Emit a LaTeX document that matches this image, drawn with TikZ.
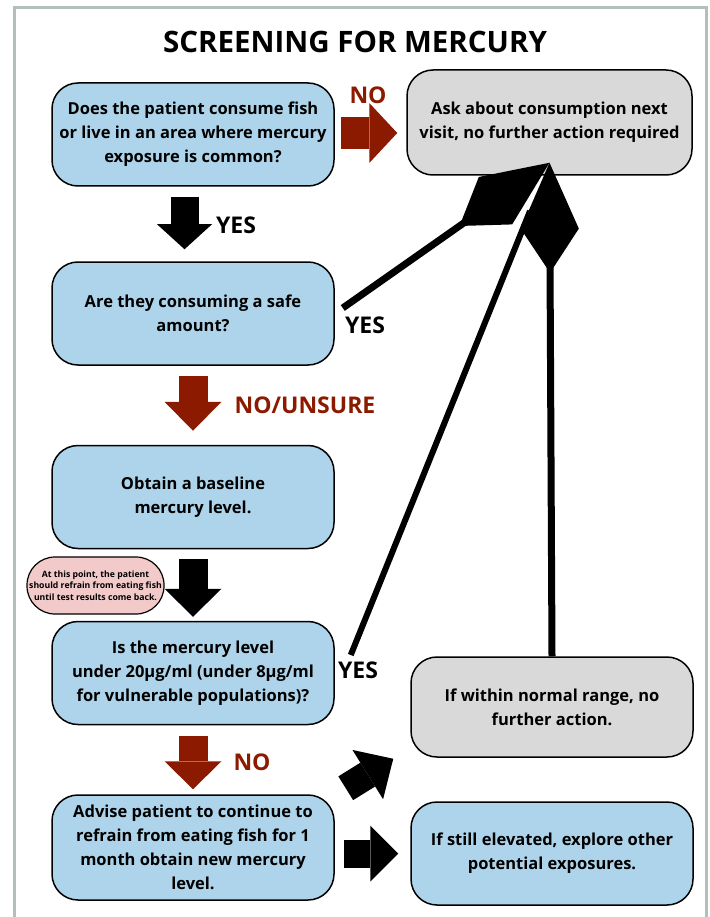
\documentclass[tikz,border=0pt]{standalone}
\usepackage{fontspec}
\setmainfont{Open Sans}
\usetikzlibrary{arrows.meta,positioning,calc}

\definecolor{boxblue}{HTML}{ADD4EA}
\definecolor{boxgray}{HTML}{D9D9D9}
\definecolor{noRed}{HTML}{8B1A00}
\definecolor{notepink}{HTML}{F2CACA}
\definecolor{framegray}{HTML}{B3BFBA}

\begin{document}
\begin{tikzpicture}[
    x=1pt, y=-1pt,
    box/.style={rectangle, draw=black, line width=1.5pt, fill=boxblue, rounded corners=26pt, minimum width=282pt, minimum height=103pt, align=center, inner sep=0pt, font=\bfseries\fontsize{16.5}{24}\selectfont},
    graybox/.style={box, fill=boxgray},
    notebox/.style={rectangle, draw=black, line width=1.2pt, fill=notepink, rounded corners=28pt, minimum width=137pt, minimum height=57pt, align=center, inner sep=0pt, font=\bfseries\fontsize{8.7}{11.5}\selectfont},
    title/.style={font=\bfseries\fontsize{29.5}{34}\selectfont},
    yeslabel/.style={font=\bfseries\fontsize{23}{26}\selectfont},
    nolabel/.style={yeslabel, text=noRed},
    blockarrow/.style={draw=black, line width=28pt, -{Triangle[length=28pt, width=56pt, line width=0pt]}},
    redarrow/.style={blockarrow, draw=noRed},
    bigline/.style={draw=black, line width=7pt, -{Kite[length=110pt, width=58pt, inset=44pt, line width=0pt]}},
    thinline/.style={draw=black, line width=6pt}
]
\useasboundingbox (0,0) rectangle (709,917);

% frame
\draw[framegray, line width=3pt] (14,917) -- (14,8) -- (706,8) -- (706,917);
\node[title] (title) at (355,42) {SCREENING FOR MERCURY};

% left column
\node[box] (fish) at (193,134.5) {Does the patient consume fish\\or live in an area where mercury\\exposure is common?};
\node[box] (safe) at (193,313.5) {Are they consuming a safe\\amount?};
\node[box] (baseline) at (193,497) {Obtain a baseline\\mercury level.};
\node[box] (level) at (193,673) {Is the mercury level\\under 20µg/ml (under 8µg/ml\\for vulnerable populations)?};
\node[box, minimum height=105pt] (advise) at (193,847.5) {Advise patient to continue to\\refrain from eating fish for 1\\month obtain new mercury\\level.};
\node[notebox] (note) at (95.5,585.5) {At this point, the patient\\should refrain from eating fish\\until test results come back.};

% right column
\node[graybox, minimum width=285pt, minimum height=105pt] (asknext) at (549.5,122.5) {Ask about consumption next\\visit, no further action required};
\node[graybox, minimum height=100pt] (normal) at (552,707) {If within normal range, no\\further action.};
\node[box] (elevated) at (552,853.5) {If still elevated, explore other\\potential exposures.};

\coordinate (tip) at ([yshift=13pt]asknext.south);

% block arrows
\draw[redarrow, line width=32pt, -{Triangle[length=28pt, width=60pt, line width=0pt]}, shorten <=6pt, shorten >=9pt] ([yshift=1.5pt]fish.east) -- ([yshift=1.5pt]fish.east -| asknext.west);
\draw[blockarrow, -{Triangle[length=25pt, width=55pt, line width=0pt]}, shorten <=10pt, shorten >=12pt] ([xshift=-8.5pt]fish.south) -- ([xshift=-8.5pt]safe.north);
\draw[redarrow, line width=29pt, -{Triangle[length=29pt, width=57pt, line width=0pt]}, shorten <=10pt, shorten >=14pt] (safe.south) -- (baseline.north);
\draw[blockarrow, line width=29pt, -{Triangle[length=28pt, width=57pt, line width=0pt]}, shorten <=10pt, shorten >=4pt] (baseline.south) -- (level.north);
\draw[redarrow, line width=29pt, -{Triangle[length=28pt, width=57pt, line width=0pt]}, shorten <=11pt, shorten >=5pt] (level.south) -- (advise.north);
\draw[blockarrow, -{Triangle[length=30pt, width=58pt, line width=0pt]}] ([xshift=11pt,yshift=6pt]advise.north east) -- ([xshift=-17pt,yshift=-1pt]normal.south west);
\draw[blockarrow, shorten <=9pt, shorten >=12pt] (advise.east |- elevated.west) -- (elevated.west);

% lines back to the top box
\draw[thinline, shorten >=52pt] ([xshift=16pt,yshift=18pt]level.east) -- (tip);
\draw[bigline] (normal.north) -- (tip);
\draw[bigline] ([xshift=8pt,yshift=5.5pt]safe.east) -- (tip);

% labels
\node[nolabel] (nofish) at (368,95) {NO};
\node[yeslabel] (yesfish) at (236,225) {YES};
\node[yeslabel] (yessafe) at (365,325) {YES};
\node[nolabel] (unsure) at (305,405) {NO/UNSURE};
\node[yeslabel] (yeslevel) at (358,670) {YES};
\node[nolabel] (nolevel) at (252,762) {NO};

\end{tikzpicture}
\end{document}
